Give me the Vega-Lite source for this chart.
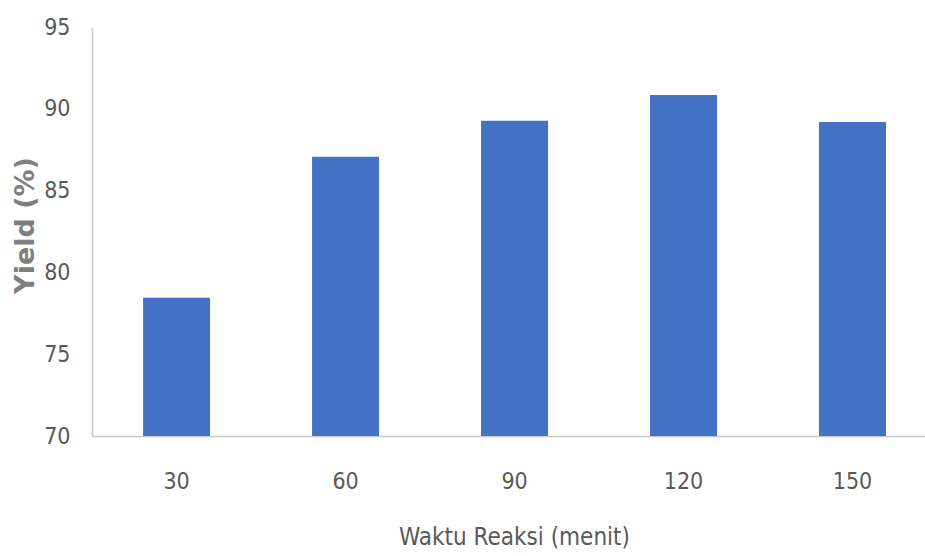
{
  "$schema": "https://vega.github.io/schema/vega-lite/v6.json",
  "width": 833,
  "height": 409,
  "autosize": {"type": "none"},
  "padding": {"left": 92, "top": 27, "right": 0, "bottom": 120},
  "background": "white",
  "data": {
    "values": [
      {"waktu": "30", "yield": 78.45},
      {"waktu": "60", "yield": 87.07},
      {"waktu": "90", "yield": 89.27},
      {"waktu": "120", "yield": 90.84},
      {"waktu": "150", "yield": 89.19}
    ]
  },
  "mark": {"type": "bar", "color": "#4472C4", "clip": true},
  "encoding": {
    "x": {
      "field": "waktu",
      "type": "ordinal",
      "sort": null,
      "scale": {"paddingInner": 0.6036, "paddingOuter": 0.2665, "align": 0.567},
      "axis": {
        "title": "Waktu Reaksi (menit)",
        "labelAngle": 0,
        "ticks": false,
        "labelPadding": 45,
        "labelBaseline": "middle",
        "labelFont": "DejaVu Sans Condensed",
        "labelFontSize": 23,
        "labelColor": "#595959",
        "domainColor": "#c8c8c8",
        "domainWidth": 1.5,
        "titleFont": "DejaVu Sans Condensed",
        "titleFontSize": 24,
        "titleFontWeight": "normal",
        "titleColor": "#595959",
        "titleX": 422,
        "titleY": 101,
        "titleBaseline": "middle"
      }
    },
    "y": {
      "field": "yield",
      "type": "quantitative",
      "scale": {"domain": [70, 95], "nice": false, "zero": false},
      "axis": {
        "title": "Yield (%)",
        "values": [70, 75, 80, 85, 90, 95],
        "grid": false,
        "ticks": false,
        "labelPadding": 22,
        "labelFont": "DejaVu Sans Condensed",
        "labelFontSize": 23,
        "labelColor": "#595959",
        "domainColor": "#c8c8c8",
        "domainWidth": 1.5,
        "titleFont": "DejaVu Sans",
        "titleFontSize": 27,
        "titleFontWeight": "bold",
        "titleColor": "#7f7f7f",
        "titleX": -67,
        "titleY": 198,
        "titleBaseline": "middle"
      }
    }
  },
  "config": {"view": {"stroke": null}}
}
